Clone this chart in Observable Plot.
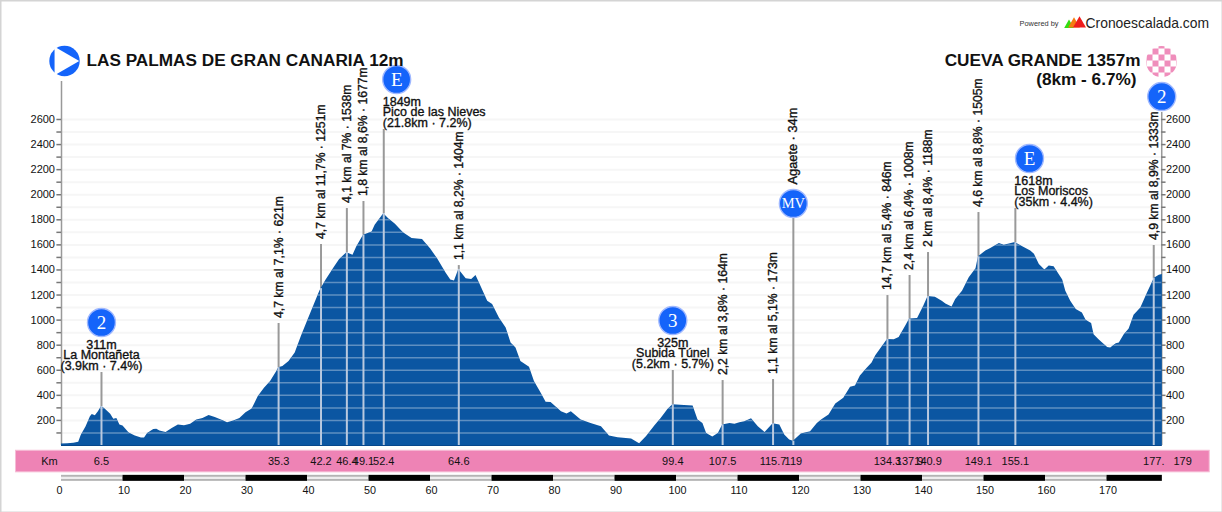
<!DOCTYPE html>
<html>
<head>
<meta charset="utf-8">
<style>html,body{margin:0;padding:0;background:#fff}svg{display:block}</style>
<script src="https://cdn.jsdelivr.net/npm/d3@7"></script>
<script src="https://cdn.jsdelivr.net/npm/@observablehq/plot@0.6"></script>
</head>
<body>
<div id="chart"></div>
<script>
const profileKm = [0,1,2,2.8,3.2,4,4.7,5,5.5,6,6.5,7,8,8.5,9,9.5,10,11,12,13,13.5,14,15,15.5,16,17,18,19,20,21,22,23,24,25,26,27,28,29,30,31,32,33,34,35,35.3,36,37,38,39,40,41,42,42.2,43,44.4,45.2,46.4,47.4,48,49.1,50.5,51,52.4,53.2,54.3,55.6,57,58.7,60,61.2,62.5,63.3,63.9,64.6,65.8,66.7,67.4,68.2,69.3,70.1,71.2,72.3,73.1,73.9,74.7,76.1,76.9,78,78.8,79.6,81.3,82.2,82.9,84.5,86.1,87.8,89.1,90.5,92.7,94,95.1,96.5,97.5,98.6,99.4,101.3,102.7,103.5,104.3,104.9,105.9,106.8,107.5,108.7,109.5,110.3,111.1,112.2,113.3,114.4,115.7,116.8,117.6,118.4,119,120.3,121.8,122.9,123.7,124.8,125.9,127.2,128.3,129.1,129.9,131,131.8,132.4,133.3,134.3,135.4,136.2,137.3,137.9,139.2,140.2,140.9,142.1,143.2,143.8,144.8,145.4,146.5,147.6,148.7,149.1,150.3,151.1,152.5,153.3,155.1,156.3,157.6,158.2,159,159.9,160.6,161.4,162.8,163.3,164.1,165,166,166.6,167.5,167.9,168.7,170.1,170.6,171.5,172,172.8,173.6,174.4,175.5,176.6,177.7,178.5,179];
const profileElev = [12,14,18,25,80,150,230,248,238,270,311,296,250,210,216,163,155,100,75,59,60,96,128,130,115,104,136,163,157,170,203,216,240,224,203,181,195,216,261,291,390,456,510,590,621,630,670,737,870,990,1110,1230,1251,1318,1423,1482,1538,1517,1583,1677,1703,1756,1849,1809,1764,1697,1650,1642,1570,1485,1378,1319,1311,1404,1330,1324,1356,1271,1151,1124,1017,937,817,777,670,625,510,416,344,342,270,251,270,203,176,150,75,61,51,13,69,157,216,288,325,320,315,203,176,96,67,96,164,176,170,181,190,214,150,104,173,163,83,43,34,91,110,176,208,243,331,376,464,475,555,617,657,716,777,846,844,862,956,1008,1012,1111,1188,1183,1151,1129,1105,1164,1231,1338,1410,1505,1551,1571,1611,1598,1618,1585,1551,1525,1444,1399,1431,1426,1319,1231,1151,1084,1057,999,972,884,844,782,777,812,817,884,929,1039,1097,1218,1333,1357,1364];

const climbKm = [35.3,42.2,46.4,49.1,64.6,107.5,115.7,134.3,137.9,140.9,149.1,177.6];
const climbElev = [621,1251,1538,1677,1404,164,173,846,1008,1188,1505,1333];
const climbTop = [973,1603,1890,1946,1435,518,526,1196,1356,1539,1858,1595];
const climbText = ["4,7 km al 7,1% · 621m","4,7 km al 11,7% · 1251m","4,1 km al 7% · 1538m","1,8 km al 8,6% · 1677m","1,1 km al 8,2% · 1404m","2,2 km al 3,8% · 164m","1,1 km al 5,1% · 173m","14,7 km al 5,4% · 846m","2,4 km al 6,4% · 1008m","2 km al 8,4% · 1188m","4,6 km al 8,8% · 1505m","4,9 km al 8,9% · 1333m"];

const peakKm = [6.5,52.4,99.4,155.1];
const peakElev = [311,1849,325,1618];
const peakTop = [582,2520,598,1890];
const peakText = ["311m\nLa Montañeta\n(3.9km · 7.4%)","1849m\nPico de las Nieves\n(21.8km · 7.2%)","325m\nSubida Túnel\n(5.2km · 5.7%)","1618m\nLos Moriscos\n(35km · 4.4%)"];
const peakAnchor = ["middle","start","middle","start"];

const badgeKm = [6.5,54.5,99.4,119,157.4,178.9];
const badgeElev = [981,2919,997,1930,2289,2783];
const badgeText = ["2","E","3","MV","E","2"];

const kmLabelAt = [6.5,35.3,42.2,46.4,49.1,52.4,64.6,99.4,107.5,115.7,119,134.3,137.9,140.9,149.1,155.1,177.6,182.3];
const kmLabelText = ["6.5","35.3","42.2","46.4","49.1","52.4","64.6","99.4","107.5","115.7","119","134.3","137.9","140.9","149.1","155.1","177.","179"];

const yMajor = [200,400,600,800,1000,1200,1400,1600,1800,2000,2200,2400,2600];
const yMinor = [100,300,500,700,900,1100,1300,1500,1700,1900,2100,2300,2500];
const rulerTicks = [0,10,20,30,40,50,60,70,80,90,100,110,120,130,140,150,160,170];

const profile = profileKm.map((km,i)=>({km,elev:profileElev[i]}));
const climbs = climbKm.map((km,i)=>({km,elev:climbElev[i],top:climbTop[i],text:climbText[i]}));
const peaks = peakKm.map((km,i)=>({km,elev:peakElev[i],top:peakTop[i],text:peakText[i],anchor:peakAnchor[i]}));
const badges = badgeKm.map((km,i)=>({km,elev:badgeElev[i],text:badgeText[i]}));
const kmLabels = kmLabelAt.map((km,i)=>({km,text:kmLabelText[i]}));
const segs = [...rulerTicks.map(t=>({a:t,b:Math.min(t+10,179),dark:(t/10)%2===1}))];
const allTicks = [...yMajor,...yMinor];
const sans = "'Liberation Sans', Arial, sans-serif";
const ink = "#111";
const bandTop = -42, bandBot = -214, rulerTop = -238, rulerBot = -286, rulerMid = -262, rulerLabel = -362;
const heavy = {fill:ink,stroke:ink,strokeWidth:0.35,paintOrder:"stroke"};

const plot = Plot.plot({
  width:1222, height:512, margin:0,
  style:{fontFamily:sans, background:"#fff", overflow:"visible"},
  x:{domain:[0,179], range:[61,1161.85], axis:null},
  y:{domain:[0,3549], range:[445,0], axis:null},
  marks:[
    Plot.frame({stroke:"#d4d4d4", strokeWidth:2}),
    Plot.ruleY(allTicks,{x1:0,x2:178.9,stroke:"#f6f6f6",strokeWidth:2}),
    Plot.ruleX([0],{y1:0,y2:2903,stroke:"#999",strokeWidth:1.5}),
    Plot.ruleX([178.9],{y1:0,y2:2655,stroke:"#999",strokeWidth:1.5}),
    Plot.ruleY(allTicks,{x1:-0.75,x2:0,stroke:"#777",strokeWidth:1.5}),
    Plot.ruleY(allTicks,{x1:178.9,x2:179.6,stroke:"#777",strokeWidth:1.5}),
    Plot.text(yMajor,{y:d=>d,frameAnchor:"left",dx:54.5,textAnchor:"end",text:d=>String(d),fontSize:11,fill:ink,lineAnchor:"middle"}),
    Plot.text(yMajor,{y:d=>d,frameAnchor:"left",dx:1165.5,textAnchor:"start",text:d=>String(d),fontSize:11,fill:ink,lineAnchor:"middle"}),
    Plot.ruleX(climbs,{x:"km",y1:"elev",y2:"top",stroke:"#999",strokeWidth:2}),
    Plot.ruleX(peaks,{x:"km",y1:"elev",y2:"top",stroke:"#999",strokeWidth:2}),
    Plot.ruleX([119],{y1:34,y2:1930,stroke:"#999",strokeWidth:2}),
    Plot.areaY(profile,{x:"km",y:"elev",fill:"#0b56a2"}),
    Plot.ruleY([0],{x1:0,x2:179,stroke:"#07478c",strokeWidth:1}),
    Plot.ruleY(allTicks,{x1:0,x2:178.9,stroke:"#fff",strokeOpacity:0.34,strokeWidth:1.5,
      render(index,scales,values,dims,ctx,next){
        const g = next(index,scales,values,dims,ctx);
        g.setAttribute("clip-path","url(#profileClip)");
        return g;
      }}),
    Plot.ruleX(climbs,{x:"km",y1:0,y2:"elev",stroke:"#b9c9df",strokeWidth:2}),
    Plot.ruleX(peaks,{x:"km",y1:0,y2:"elev",stroke:"#b9c9df",strokeWidth:2}),
    Plot.ruleX([119],{y1:0,y2:34,stroke:"#b9c9df",strokeWidth:2}),
    Plot.text(climbs,{x:"km",y:"top",text:"text",rotate:-90,textAnchor:"start",lineAnchor:"middle",dy:-5.5,fontSize:12.2,...heavy}),
    Plot.text(["Agaete · 34m"],{x:()=>119,y:()=>1930,rotate:-90,textAnchor:"start",lineAnchor:"middle",dy:-19,fontSize:12.8,...heavy}),
    Plot.text(peaks.filter(p=>p.anchor==="middle"),{x:"km",y:"top",text:"text",textAnchor:"middle",lineAnchor:"bottom",lineHeight:0.84,dy:-3,fontSize:12.5,...heavy}),
    Plot.text(peaks.filter(p=>p.anchor==="start"),{x:"km",y:"top",text:"text",textAnchor:"start",lineAnchor:"bottom",lineHeight:0.84,dx:-1,dy:-3,fontSize:12.5,...heavy}),
    Plot.dot(badges,{x:"km",y:"elev",r:14,fill:"#1464fa",stroke:"#9fb8ff",strokeWidth:1.4}),
    Plot.text(badges,{x:"km",y:"elev",text:"text",fill:"#fff",fontFamily:"'Liberation Serif',serif",fontSize:d=>d.text==="MV"?14.5:19,lineAnchor:"middle"}),
    Plot.rect([0],{x1:()=>-7.4,x2:()=>186.7,y1:()=>bandTop,y2:()=>bandBot,fill:"#ee83b5",stroke:"#f6bcd6",strokeWidth:1}),
    Plot.text(["Km"],{frameAnchor:"top-left",dx:49,dy:461,textAnchor:"middle",lineAnchor:"middle",fontSize:11,fill:ink}),
    Plot.text(kmLabels,{x:"km",y:()=>-128,text:"text",fontSize:11,fill:ink,lineAnchor:"middle"}),
    Plot.rect(segs.filter(s=>!s.dark),{x1:"a",x2:"b",y1:()=>rulerTop,y2:()=>rulerBot,fill:"#b4b4b4"}),
    Plot.rect(segs.filter(s=>!s.dark),{x1:"a",x2:"b",y1:()=>rulerMid+9,y2:()=>rulerMid-9,fill:"#eee"}),
    Plot.rect(segs.filter(s=>s.dark),{x1:"a",x2:"b",y1:()=>rulerTop,y2:()=>rulerBot,fill:"#000"}),
    Plot.text(rulerTicks.filter(t=>t>0),{x:d=>d,y:()=>rulerLabel,text:d=>String(d),fontSize:10.8,fill:ink,lineAnchor:"middle",dx:1}),
    Plot.text(rulerTicks.filter(t=>t===0),{x:d=>d,y:()=>rulerLabel,text:d=>String(d),fontSize:10.8,fill:ink,lineAnchor:"middle",dx:-2}),
    Plot.dot([0],{frameAnchor:"top-left",dx:64,dy:60.5,r:15.2,fill:"#1464fa"}),
    Plot.dot([0],{frameAnchor:"top-left",dx:62.3,dy:60.5,r:13.6,symbol:"triangle2",rotate:90,fill:"#fff"}),
    Plot.text(["LAS PALMAS DE GRAN CANARIA 12m"],{frameAnchor:"top-left",dx:86,dy:60,textAnchor:"start",lineAnchor:"middle",fontSize:17.2,fontWeight:"bold",fill:ink}),
    Plot.text(["CUEVA GRANDE 1357m"],{frameAnchor:"top-left",dx:1140,dy:60,textAnchor:"end",lineAnchor:"middle",fontSize:17.2,fontWeight:"bold",fill:ink}),
    Plot.text(["(8km - 6.7%)"],{frameAnchor:"top-left",dx:1136,dy:78.5,textAnchor:"end",lineAnchor:"middle",fontSize:17.2,fontWeight:"bold",fill:ink}),
    Plot.dot([0],{frameAnchor:"top-left",dx:1161,dy:61,r:15.5,fill:"url(#checker)"}),
    Plot.text(["Powered by"],{frameAnchor:"top-left",dx:1019,dy:23.5,textAnchor:"start",lineAnchor:"middle",fontSize:7.4,fill:"#333"}),
    Plot.dot([0],{frameAnchor:"top-left",dx:1068.5,dy:24.6,r:4.6,symbol:"triangle2",fill:"#33dd11"}),
    Plot.dot([0],{frameAnchor:"top-left",dx:1073.5,dy:23.6,r:5.6,symbol:"triangle2",fill:"#f57a10"}),
    Plot.dot([0],{frameAnchor:"top-left",dx:1079,dy:23.2,r:6.2,symbol:"triangle2",fill:"#ee1c1c"}),
    Plot.text(["Cronoescalada.com"],{frameAnchor:"top-left",dx:1085,dy:23,textAnchor:"start",lineAnchor:"middle",fontSize:13.9,fill:"#222"})
  ]
});

const defs = d3.select(plot).insert("defs",":first-child");
const pat = defs.append("pattern").attr("id","checker").attr("patternUnits","userSpaceOnUse")
  .attr("x",1143).attr("y",47).attr("width",12).attr("height",12);
pat.append("rect").attr("width",12).attr("height",12).attr("fill","#fff");
pat.append("rect").attr("x",0).attr("y",0).attr("width",6).attr("height",6).attr("fill","#ef8dbb");
pat.append("rect").attr("x",6).attr("y",6).attr("width",6).attr("height",6).attr("fill","#ef8dbb");
const sx = plot.scale("x"), sy = plot.scale("y");
const gen = d3.area().x(d=>sx.apply(d.km)).y0(sy.apply(0)).y1(d=>sy.apply(d.elev));
defs.append("clipPath").attr("id","profileClip").append("path").attr("d",gen(profile));
document.getElementById("chart").appendChild(plot);
</script>
</body>
</html>
